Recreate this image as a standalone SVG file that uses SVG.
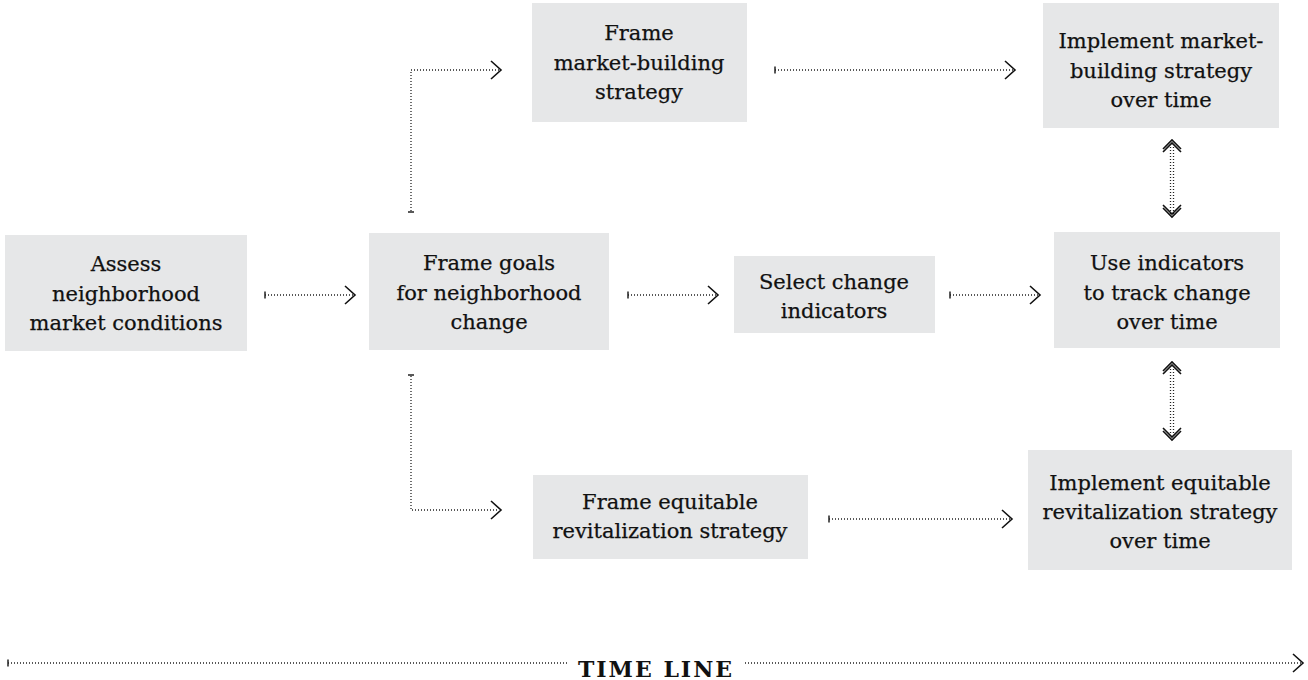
<svg xmlns="http://www.w3.org/2000/svg" width="1308" height="680" viewBox="0 0 1308 680">
<style>
.box{fill:#e6e7e8}
.t{font-family:"DejaVu Serif","Liberation Serif",serif;font-size:21px;fill:#111;stroke:#111;stroke-width:0.25;text-anchor:middle}
.d{stroke:#222;stroke-width:1.3;stroke-dasharray:1 2;fill:none}
.tk{stroke:#222;stroke-width:1.5;fill:none}
.ah{stroke:#111;stroke-width:1.6;fill:none}
.tl{font-family:"DejaVu Serif","Liberation Serif",serif;font-size:22px;font-weight:bold;fill:#111;text-anchor:middle;letter-spacing:2px}
</style>
<rect width="1308" height="680" fill="#fff"/>
<g id="assess"><rect class="box" x="5" y="235" width="242" height="116"/>
<text class="t" x="126" y="271">Assess</text><text class="t" x="126" y="301">neighborhood</text><text class="t" x="126" y="330">market conditions</text></g>
<g id="goals"><rect class="box" x="369" y="233" width="240" height="117"/>
<text class="t" x="489" y="270">Frame goals</text><text class="t" x="489" y="300">for neighborhood</text><text class="t" x="489" y="329">change</text></g>
<g id="select"><rect class="box" x="734" y="256" width="201" height="77"/>
<text class="t" x="834" y="289">Select change</text><text class="t" x="834" y="318">indicators</text></g>
<g id="use"><rect class="box" x="1054" y="232" width="226" height="116"/>
<text class="t" x="1167" y="270">Use indicators</text><text class="t" x="1167" y="300">to track change</text><text class="t" x="1167" y="329">over time</text></g>
<g id="frame-market"><rect class="box" x="532" y="3" width="215" height="119"/>
<text class="t" x="639" y="40">Frame</text><text class="t" x="639" y="70">market-building</text><text class="t" x="639" y="99">strategy</text></g>
<g id="impl-market"><rect class="box" x="1043" y="3" width="236" height="125"/>
<text class="t" x="1161" y="48">Implement market-</text><text class="t" x="1161" y="78">building strategy</text><text class="t" x="1161" y="107">over time</text></g>
<g id="frame-equit"><rect class="box" x="533" y="475" width="275" height="84"/>
<text class="t" x="670" y="509">Frame equitable</text><text class="t" x="670" y="538">revitalization strategy</text></g>
<g id="impl-equit"><rect class="box" x="1028" y="450" width="264" height="120"/>
<text class="t" x="1160" y="490">Implement equitable</text><text class="t" x="1160" y="519">revitalization strategy</text><text class="t" x="1160" y="548">over time</text></g>
<g id="connectors">
<path class="d" d="M265 295H354"/><path class="tk" d="M265 291.5v7"/><path class="ah" d="M345 286l10 9-10 9"/>
<path class="d" d="M628 295H717"/><path class="tk" d="M628 291.5v7"/><path class="ah" d="M708 286l10 9-10 9"/>
<path class="d" d="M950 295H1039"/><path class="tk" d="M950 291.5v7"/><path class="ah" d="M1030 286l10 9-10 9"/>
<path class="d" d="M775 70H1014"/><path class="tk" d="M775 66.5v7"/><path class="ah" d="M1005 61l10 9-10 9"/>
<path class="d" d="M829 519H1011"/><path class="tk" d="M829 515.5v7"/><path class="ah" d="M1002 510l10 9-10 9"/>
<path class="d" d="M411 211V70H499"/><path class="tk" d="M408 212h6"/><path class="ah" d="M491 61l10 9-10 9"/>
<path class="d" d="M411 376V510H499"/><path class="tk" d="M408 375h6"/><path class="ah" d="M491 501l10 9-10 9"/>
<path class="d" d="M1170.5 144V214M1173.5 144V214"/>
<path class="ah" d="M1163 149l9-9 9 9M1163 152l9-9 9 9M1163 208l9 9 9-9M1163 205l9 9 9-9" stroke-width="1.2"/>
<path class="d" d="M1170.5 366V437M1173.5 366V437"/>
<path class="ah" d="M1163 371l9-9 9 9M1163 374l9-9 9 9M1163 431l9 9 9-9M1163 428l9 9 9-9" stroke-width="1.2"/>
</g>
<g id="timeline">
<path class="d" d="M8 663H568M745 663H1302"/><path class="tk" d="M8 659.5v7"/><path class="ah" d="M1293 654l10 9-10 9"/>
<text class="tl" x="656" y="677">TIME LINE</text>
</g>
</svg>
